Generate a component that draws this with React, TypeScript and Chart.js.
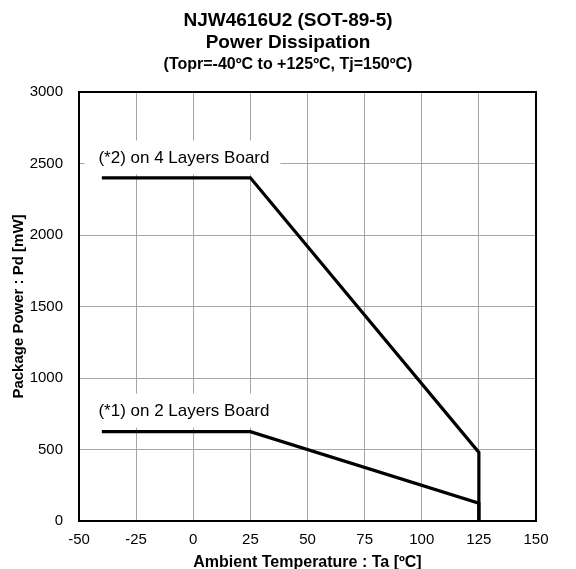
import React, { useEffect, useRef } from "react";
import { Chart, registerables } from "chart.js";

Chart.register(...registerables);

const fourLayerX = [-40, 25, 125, 125];
const fourLayerY = [2400, 2400, 480, 0];
const twoLayerX = [-40, 25, 125, 125];
const twoLayerY = [625, 625, 125, 0];
const xTicksMin = -50;
const xTicksMax = 150;
const xStep = 25;
const yTicksMin = 0;
const yTicksMax = 3000;
const yStep = 500;
const labelFour = "(*2) on 4 Layers Board";
const labelTwo = "(*1) on 2 Layers Board";
const labelFourPos = [-41.5, 2535];
const labelTwoPos = [-41.5, 765];
const titleLines = ["NJW4616U2 (SOT-89-5)", "Power Dissipation"];
const subtitleText = "(Topr=-40ºC to +125ºC, Tj=150ºC)";
const xTitle = "Ambient Temperature : Ta [ºC]";
const yTitle = "Package Power : Pd [mW]";

const FONT = "'Liberation Sans', Arial, sans-serif";

export default function App() {
  const ref = useRef<HTMLCanvasElement | null>(null);
  useEffect(() => {
    if (!ref.current) return;
    const labels = [
      { text: labelFour, pos: labelFourPos },
      { text: labelTwo, pos: labelTwoPos },
    ];
    const framePlugin = {
      id: "frame",
      beforeDatasetsDraw(chart: any) {
        const { ctx, scales } = chart;
        ctx.save();
        ctx.font = `17px ${FONT}`;
        ctx.fillStyle = "#fff";
        for (const l of labels) {
          const x = scales.x.getPixelForValue(l.pos[0]);
          const y = scales.y.getPixelForValue(l.pos[1]);
          const w = ctx.measureText(l.text).width;
          ctx.fillRect(x - 14, y - 18, w + 25, 34);
        }
        ctx.fillStyle = "#000";
        ctx.textBaseline = "middle";
        ctx.textAlign = "left";
        for (const l of labels) {
          ctx.fillText(l.text, scales.x.getPixelForValue(l.pos[0]), scales.y.getPixelForValue(l.pos[1]));
        }
        ctx.restore();
      },
      afterDatasetsDraw(chart: any) {
        const { ctx, chartArea: a } = chart;
        ctx.save();
        ctx.strokeStyle = "#000";
        ctx.lineWidth = 2;
        ctx.strokeRect(a.left, a.top, a.right - a.left, a.bottom - a.top);
        ctx.restore();
      },
      afterDraw(chart: any) {
        const { ctx, width } = chart;
        ctx.save();
        ctx.fillStyle = "#000";
        ctx.textAlign = "center";
        ctx.textBaseline = "middle";
        ctx.font = `bold 19px ${FONT}`;
        ctx.fillText(titleLines[0], width / 2, 21);
        ctx.fillText(titleLines[1], width / 2, 43);
        ctx.font = `bold 16px ${FONT}`;
        ctx.fillText(subtitleText, width / 2, 65);
        ctx.restore();
      },
    };
    const mk = (xs: number[], ys: number[]) => xs.map((x, i) => ({ x, y: ys[i] }));
    const chart = new Chart(ref.current, {
      type: "line",
      data: {
        datasets: [
          {
            data: mk(fourLayerX, fourLayerY),
            borderColor: "#000",
            borderWidth: 3.2,
            pointRadius: 0,
            tension: 0,
          },
          {
            data: mk(twoLayerX, twoLayerY),
            borderColor: "#000",
            borderWidth: 3.2,
            pointRadius: 0,
            tension: 0,
          },
        ],
      },
      options: {
        animation: false,
        responsive: true,
        maintainAspectRatio: false,
        layout: { padding: { top: 92, right: 40, left: 0, bottom: 0 } },
        plugins: {
          legend: { display: false },
          tooltip: { enabled: false },
          title: { display: false },
        },
        scales: {
          x: {
            type: "linear",
            min: xTicksMin,
            max: xTicksMax,
            afterFit: (s: any) => {
              s.height = 48;
            },
            ticks: {
              stepSize: xStep,
              color: "#000",
              font: { family: FONT, size: 15 },
              padding: 10,
              callback: (v: any) => String(v),
            },
            grid: { color: "#a6a6a6", lineWidth: 1, drawTicks: false },
            border: { color: "#000", width: 2 },
            title: {
              display: true,
              text: xTitle,
              color: "#000",
              font: { family: FONT, size: 16, weight: "bold" },
              padding: { top: 0, bottom: -3 },
            },
          },
          y: {
            type: "linear",
            min: yTicksMin,
            max: yTicksMax,
            afterFit: (s: any) => {
              s.width = 79;
            },
            ticks: {
              stepSize: yStep,
              color: "#000",
              font: { family: FONT, size: 15 },
              padding: 16,
              callback: (v: any) => String(v),
            },
            grid: { color: "#a6a6a6", lineWidth: 1, drawTicks: false },
            border: { color: "#000", width: 2 },
            title: {
              display: true,
              text: yTitle,
              color: "#000",
              font: { family: FONT, size: 15, weight: "bold" },
              padding: { top: 10, bottom: 0 },
            },
          },
        },
      },
      plugins: [framePlugin],
    });
    return () => chart.destroy();
  }, []);
  return (
    <div style={{ position: "fixed", left: 0, top: 0, width: 576, height: 569, background: "#fff" }}>
      <canvas ref={ref} />
    </div>
  );
}
